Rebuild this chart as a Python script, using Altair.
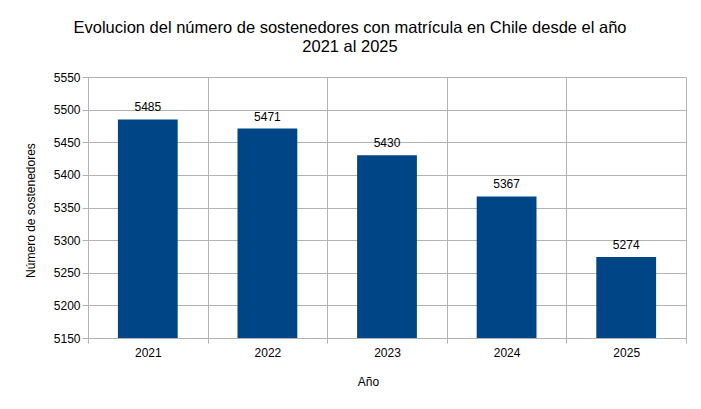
import altair as alt
import pandas as pd

years = ["2021", "2022", "2023", "2024", "2025"]
values = [5485, 5471, 5430, 5367, 5274]

df = pd.DataFrame({"Año": years, "Sostenedores": values})

FONT = "Liberation Sans"
GRID = "#b3b3b3"

x = alt.X(
    "Año:N",
    sort=years,
    scale=alt.Scale(paddingInner=0, paddingOuter=0),
    axis=alt.Axis(
        title="Año",
        labelAngle=0,
        tickBand="extent",
        grid=True,
        gridColor=GRID,
        domainColor=GRID,
        tickColor=GRID,
        tickSize=5,
        labelPadding=4,
        labelFontSize=12,
        labelColor="black",
        titleFontSize=12,
        titleFontWeight="normal",
        titleColor="black",
        titleX=280,
        titleY=47,
        titleBaseline="alphabetic",
    ),
)

y = alt.Y(
    "Sostenedores:Q",
    scale=alt.Scale(domain=[5150, 5550], zero=False, nice=False),
    axis=alt.Axis(
        title="Número de sostenedores",
        values=list(range(5150, 5551, 50)),
        format="d",
        grid=True,
        gridColor=GRID,
        domainColor=GRID,
        tickColor=GRID,
        tickSize=6,
        labelPadding=2,
        labelFontSize=12,
        labelColor="black",
        titleFontSize=12,
        titleFontWeight="normal",
        titleColor="black",
        titleX=-58,
        titleY=133,
        titleAlign="center",
        titleBaseline="middle",
        titleAngle=270,
    ),
)

bars = alt.Chart(df).mark_bar(
    color="#004586", width=alt.RelativeBandSize(0.5), clip=True
).encode(x=x, y=y, y2=alt.datum(5150))
labels = alt.Chart(df).mark_text(
    baseline="bottom", dy=-5, fontSize=12, font=FONT, color="black"
).encode(x=x, y=y, text="Sostenedores:Q")

chart = (
    alt.layer(bars, labels)
    .properties(
        width=598,
        height=261,
        autosize=alt.AutoSizeParams(type="none"),
        padding={"left": 80, "top": 69, "right": 7, "bottom": 63},
        title=alt.TitleParams(
            text=["Evolucion del número de sostenedores con matrícula en Chile desde el año", "2021 al 2025"],
            fontSize=16.5,
            font=FONT,
            fontWeight="normal",
            color="black",
            anchor="middle",
            dx=-37,
            offset=16,
            lineHeight=19,
        ),
    )
    .configure(font=FONT)
    .configure_view(stroke=None)
    .configure_axis(labelFont=FONT, titleFont=FONT)
)

chart.save("out.html", embed_options={"renderer": "svg", "actions": False})
